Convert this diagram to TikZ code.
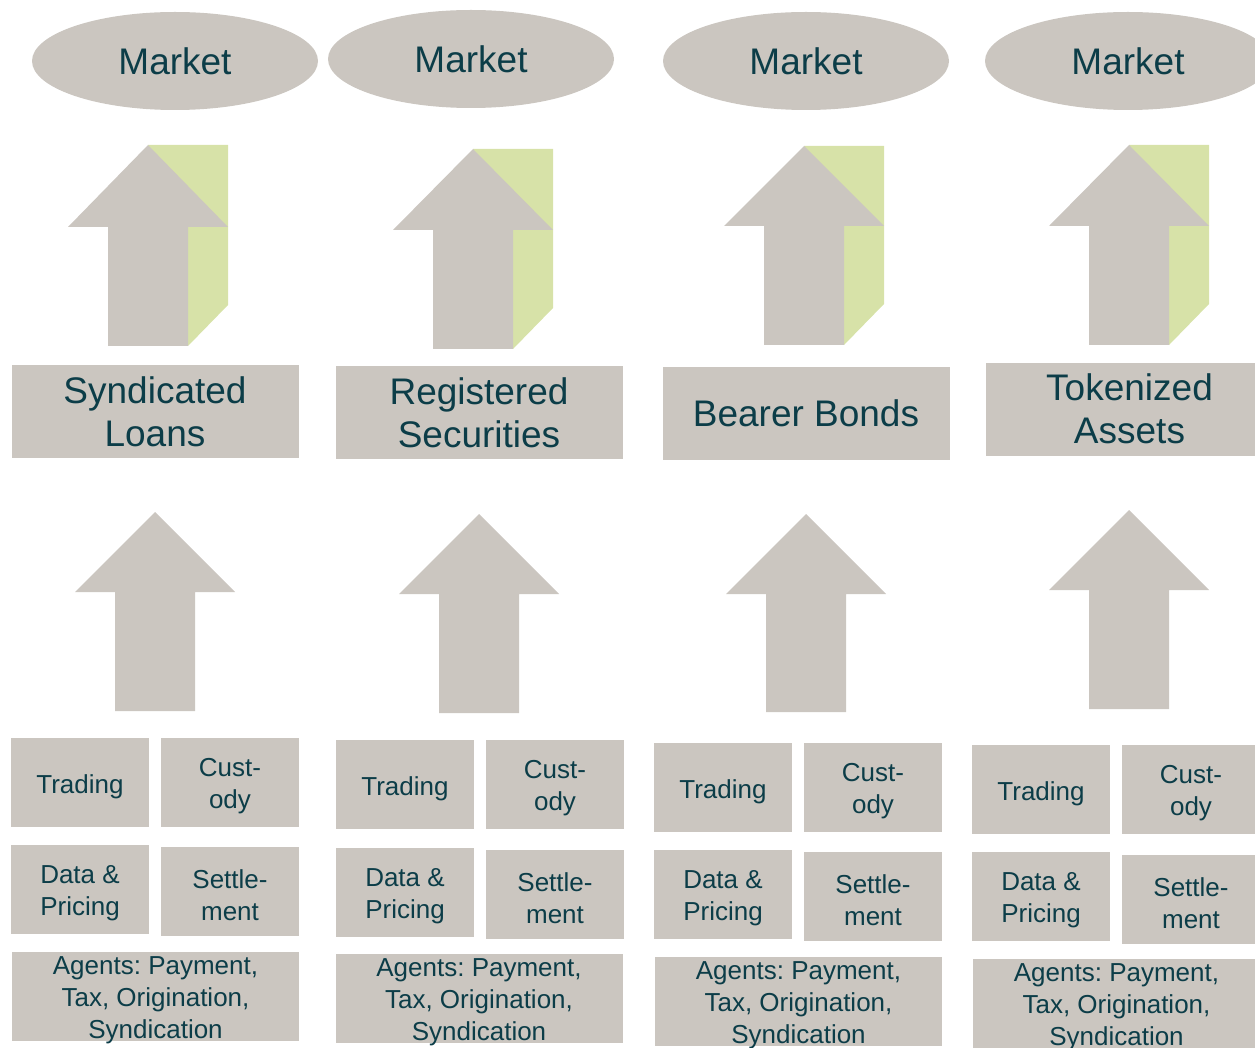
\documentclass[tikz,border=0pt]{standalone}
\usepackage{fontspec}
\setmainfont{Liberation Sans}
\frenchspacing
\usetikzlibrary{shapes.geometric}

\definecolor{boxgray}{RGB}{203,198,192}
\definecolor{leafgreen}{RGB}{215,226,168}
\definecolor{inkteal}{RGB}{12,61,72}

% gray block arrow: #1 centre x, #2 tip y, #3 head base y, #4 bottom y
\newcommand\colarrow[4]{%
  \fill[boxgray] (#1,#2) -- ({#1+80},#3) -- ({#1+40},#3) -- ({#1+40},#4)
    -- ({#1-40},#4) -- ({#1-40},#3) -- ({#1-80},#3) -- cycle;}
% green side face behind the upper arrows
\newcommand\colshade[4]{%
  \fill[leafgreen] (#1,#2) -- ({#1+80},#2) -- ({#1+80},{#4-41})
    -- ({#1+40},#4) -- ({#1+40},#3) -- cycle;}

\tikzset{
  market/.style={ellipse, fill=boxgray, minimum width=286, minimum height=98,
    inner sep=0, text=inkteal, font=\fontsize{37}{43}\selectfont},
  assetbox/.style={rectangle, fill=boxgray, minimum width=287, minimum height=93,
    inner sep=0, align=center, text=inkteal, font=\fontsize{37}{43}\selectfont},
  % small service tiles: text set slightly below the tile centre
  servicebox/.style={rectangle, fill=boxgray, minimum width=138, minimum height=89,
    inner sep=0,
    label={[inner sep=0, yshift=-4pt, align=center, text=inkteal,
            font=\fontsize{26}{32}\selectfont]center:#1}},
  agentbox/.style={servicebox={#1}, minimum width=287},
}

\begin{document}
\begin{tikzpicture}[x=1pt, y=-1pt]
\useasboundingbox (0,0) rectangle (1255,1048);
\clip (0,0) rectangle (1255,1048);

% ---- column 1: syndicated loans
\node[market] (m1) at (175,61) {Market};
\colshade{148}{145}{227}{346}
\colarrow{148}{145}{227}{346}
\node[assetbox] (a1) at (155,411.5) {Syndicated\\Loans};
\colarrow{155}{512}{592}{711}
\node[servicebox={Trading}] (t1) at (80,782.5) {};
\node[servicebox={Cust-\\ody}] (c1) at (230,782.5) {};
\node[servicebox={Data \&\\Pricing}] (d1) at (80,889.5) {};
\node[servicebox={Settle-\\ment}] (s1) at (230,891.5) {};
\node[agentbox={Agents: Payment,\\Tax, Origination,\\Syndication}] (g1) at (155.5,996.5) {};

% ---- column 2: registered securities
\node[market] (m2) at (471,59) {Market};
\colshade{473}{149}{230}{349}
\colarrow{473}{149}{230}{349}
\node[assetbox] (a2) at (479,412.5) {Registered\\Securities};
\colarrow{479}{514}{594}{713}
\node[servicebox={Trading}] (t2) at (405,784.5) {};
\node[servicebox={Cust-\\ody}] (c2) at (555,784.5) {};
\node[servicebox={Data \&\\Pricing}] (d2) at (405,892) {};
\node[servicebox={Settle-\\ment}] (s2) at (555,894) {};
\node[agentbox={Agents: Payment,\\Tax, Origination,\\Syndication}] (g2) at (479,998.5) {};

% ---- column 3: bearer bonds
\node[market] (m3) at (806,61) {Market};
\colshade{804}{146}{226}{345}
\colarrow{804}{146}{226}{345}
\node[assetbox] (a3) at (806,413.5) {Bearer Bonds};
\colarrow{806}{514}{594}{712}
\node[servicebox={Trading}] (t3) at (723,787.5) {};
\node[servicebox={Cust-\\ody}] (c3) at (873,787.5) {};
\node[servicebox={Data \&\\Pricing}] (d3) at (723,894.5) {};
\node[servicebox={Settle-\\ment}] (s3) at (873,896.5) {};
\node[agentbox={Agents: Payment,\\Tax, Origination,\\Syndication}] (g3) at (798.5,1001.5) {};

% ---- column 4: tokenized assets
\node[market] (m4) at (1128,61) {Market};
\colshade{1129}{145}{226}{345}
\colarrow{1129}{145}{226}{345}
\node[assetbox] (a4) at (1129.5,409) {Tokenized\\Assets};
\colarrow{1129}{510}{590}{709}
\node[servicebox={Trading}] (t4) at (1041,789.5) {};
\node[servicebox={Cust-\\ody}] (c4) at (1191,789.5) {};
\node[servicebox={Data \&\\Pricing}] (d4) at (1041,896.5) {};
\node[servicebox={Settle-\\ment}] (s4) at (1191,899.5) {};
\node[agentbox={Agents: Payment,\\Tax, Origination,\\Syndication}] (g4) at (1116.5,1003.5) {};
\end{tikzpicture}
\end{document}
